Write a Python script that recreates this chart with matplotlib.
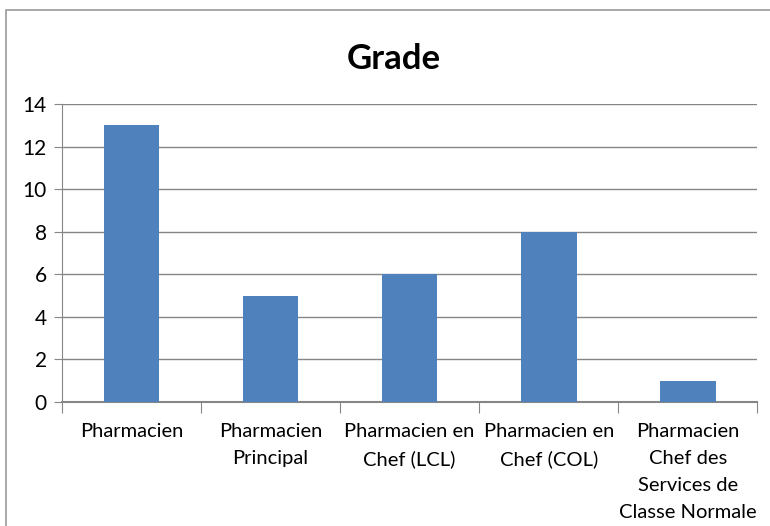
import matplotlib.pyplot as plt
from matplotlib.patches import Rectangle
import numpy as np

# grade categories and counts
grades = ['Pharmacien', 'Pharmacien\nPrincipal', 'Pharmacien en\nChef (LCL)',
          'Pharmacien en\nChef (COL)', 'Pharmacien\nChef des\nServices de\nClasse Normale']
counts = [13, 5, 6, 8, 1]
yticks = [0, 2, 4, 6, 8, 10, 12, 14]

plt.rcParams['font.family'] = ['Lato', 'DejaVu Sans']

fig = plt.figure(figsize=(7.7, 5.26), dpi=100)
ax = fig.add_axes([0.0805, 0.2357, 0.903, 0.5666])

# outer chart frame (cut off at right and bottom like the source)
fig.patches.append(Rectangle((0.0078, -0.1), 1.2, 0.1 + 0.981, transform=fig.transFigure,
                             fill=False, edgecolor='#9a9a9a', linewidth=1.2))

x = np.arange(len(grades))
ax.bar(x, counts, width=0.4, color='#4F81BD', zorder=3)

ax.set_xlim(-0.5, len(grades) - 0.5)
ax.set_ylim(0, 14)
ax.set_yticks(yticks)
ax.tick_params(axis='y', labelsize=15, length=6, color='#868686', pad=5)
ax.yaxis.grid(True, color='#868686', linewidth=1, zorder=0)

# category boundary ticks on x axis
ax.set_xticks(np.arange(-0.5, len(grades), 1.0))
ax.set_xticklabels([])
ax.tick_params(axis='x', length=8, color='#868686', direction='out')
for i, g in enumerate(grades):
    ax.text(i, -0.97, g, ha='center', va='top', fontsize=14.5, linespacing=1.72,
            transform=ax.transData)

for side in ['top', 'right']:
    ax.spines[side].set_visible(False)
ax.spines['left'].set_color('#868686')
ax.spines['bottom'].set_color('#868686')
ax.spines['bottom'].set_linewidth(1.5)

fig.text(0.511, 0.888, 'Grade', ha='center', va='center', fontsize=25, fontweight='bold')

fig.savefig('out.png', dpi=100)
